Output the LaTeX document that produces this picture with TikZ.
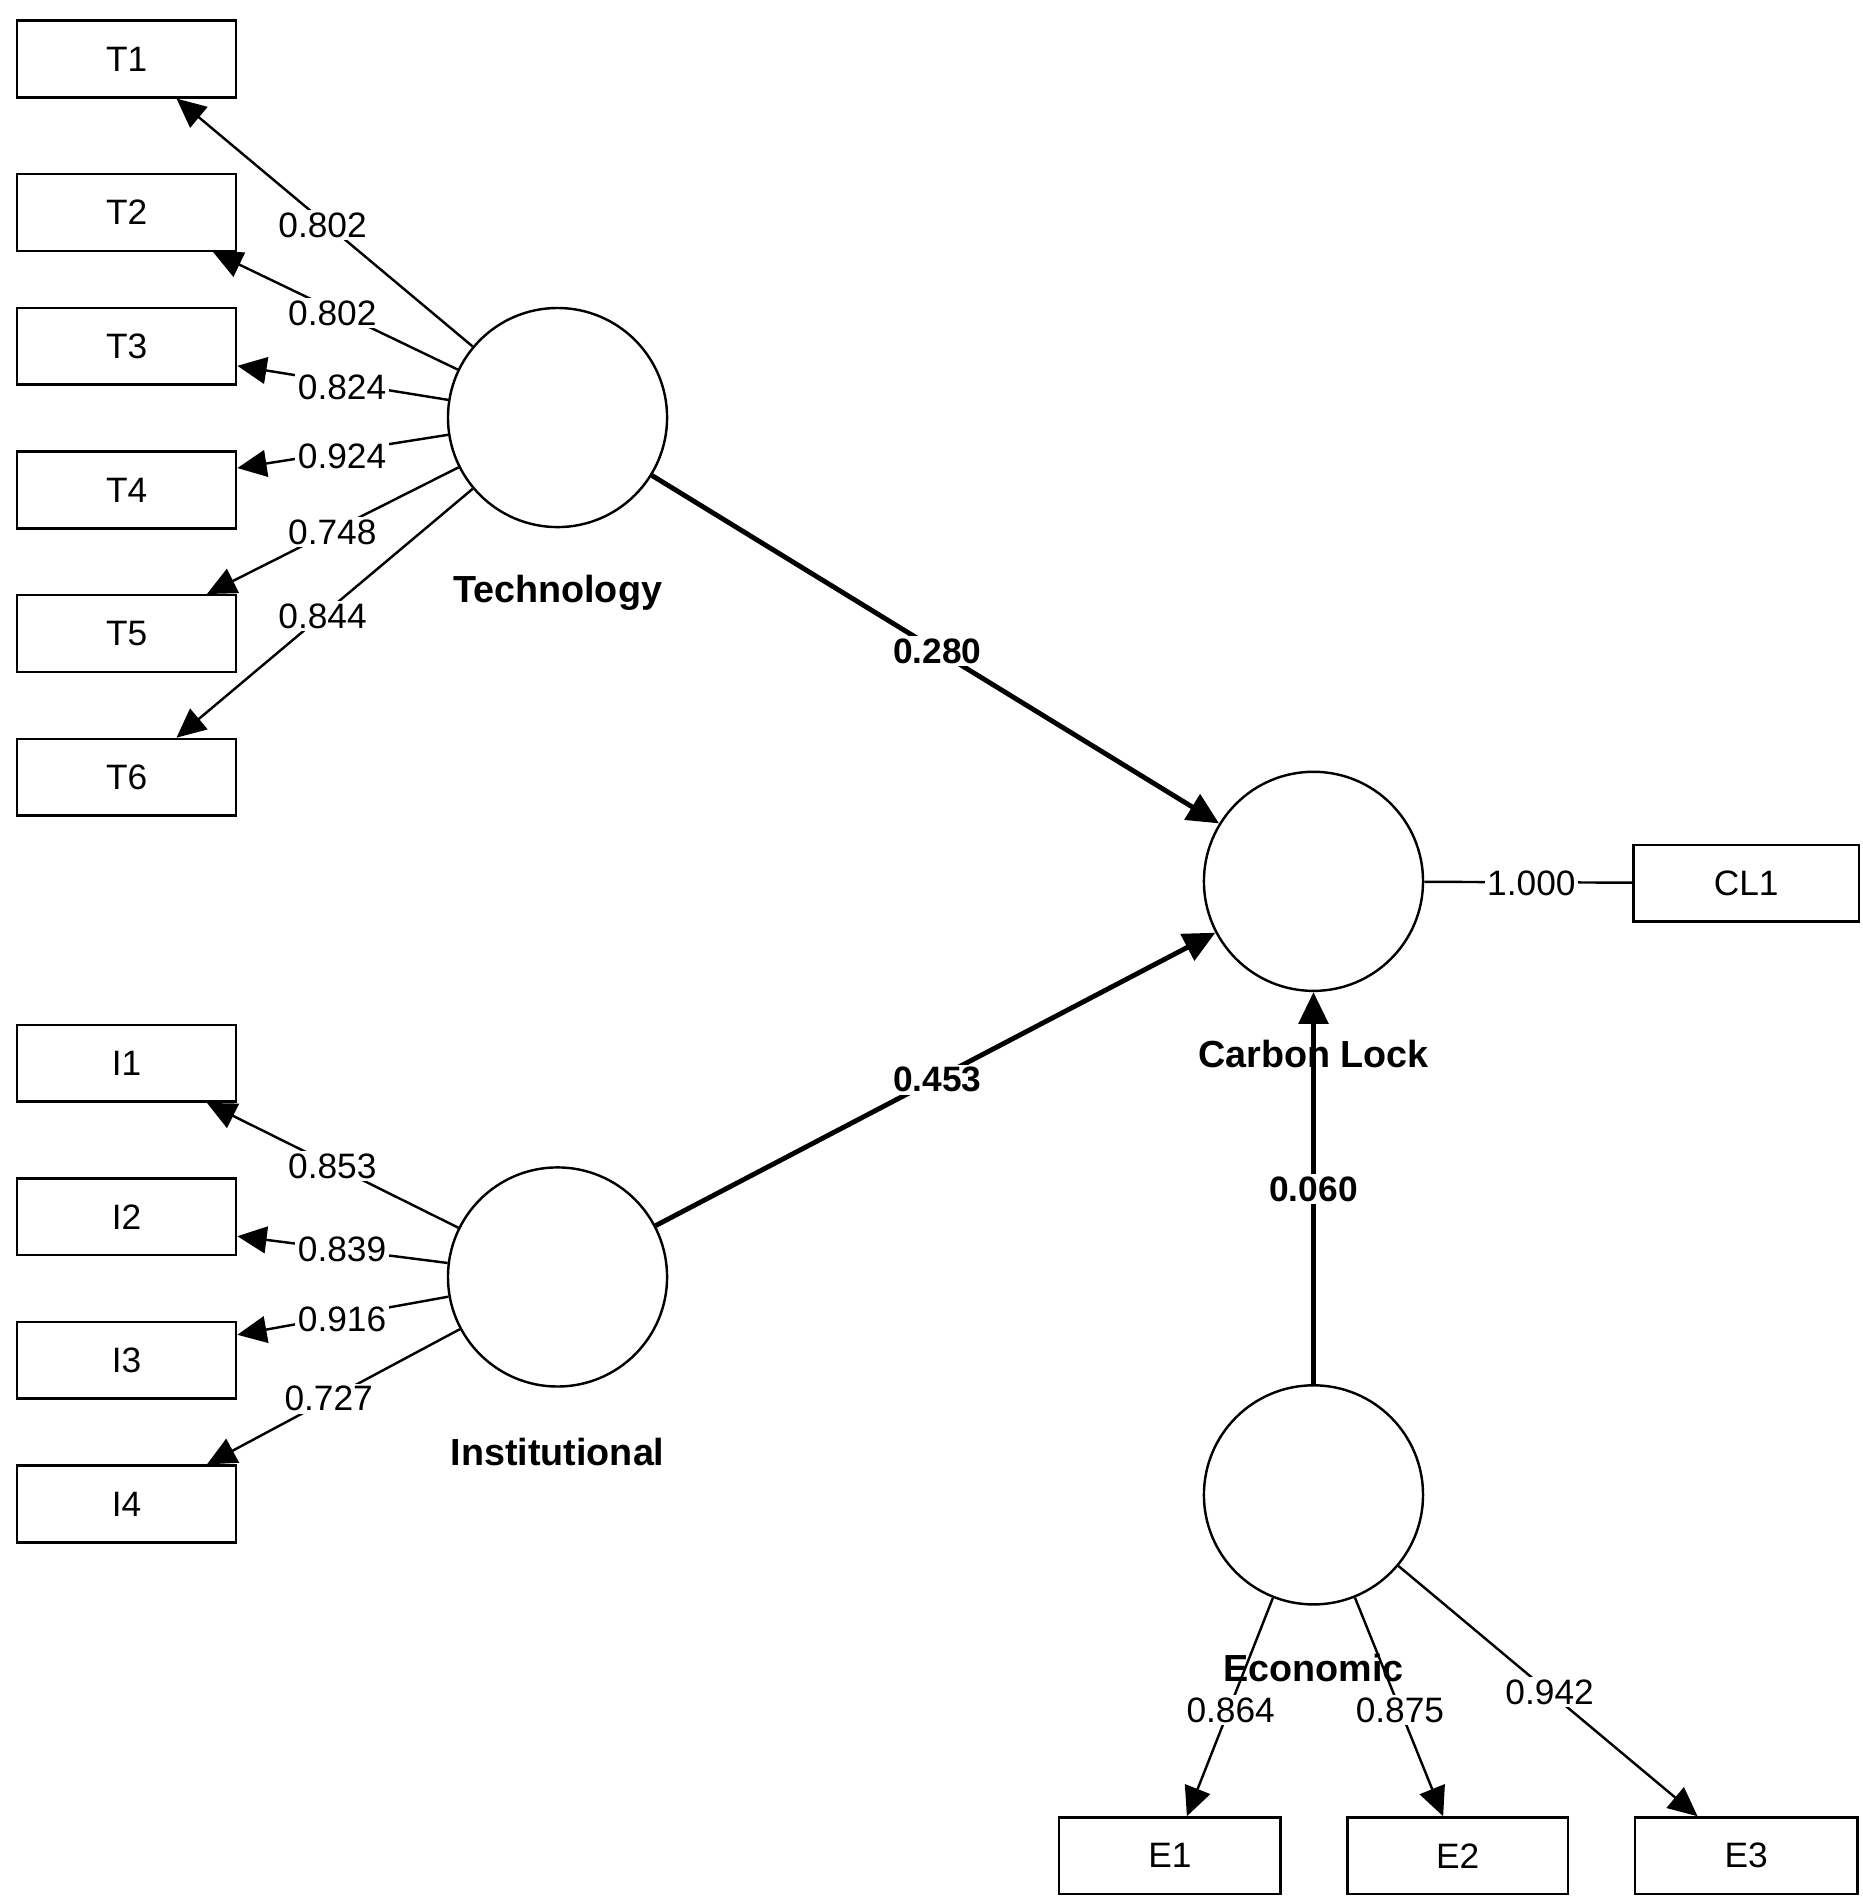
\documentclass[tikz,border=0pt]{standalone}
\usepackage{fontspec}
\setmainfont{Liberation Sans}
\usetikzlibrary{arrows.meta,calc}
\begin{document}
\begin{tikzpicture}[x=1pt,y=-1pt,
  box/.style={draw,line width=2pt,minimum width=180pt,minimum height=63pt,inner sep=0,font=\fontsize{29}{30}\selectfont},
  lv/.style={draw,circle,line width=2pt,minimum size=180pt,inner sep=0},
  lbl/.style={font=\bfseries\fontsize{31}{32}\selectfont},
  num/.style={fill=white,inner sep=2pt,font=\fontsize{29}{30}\selectfont},
  bnum/.style={fill=white,inner sep=2pt,font=\bfseries\fontsize{29}{30}\selectfont},
  ld/.style={line width=2pt,-{Triangle[length=24pt,width=22pt]}},
  sp/.style={line width=4pt,-{Triangle[length=26pt,width=24pt]}}]
\useasboundingbox (0,0) rectangle (1530,1560);
\fill[white] (0,0) rectangle (1530,1560);
\foreach \n/\y in {T1/48.5,T2/174.5,T3/284.5,T4/402.5,T5/520.5,T6/638.5,I1/873.5,I2/999.5,I3/1117.5,I4/1235.5}
  \node[box] (\n) at (104,\y) {\n};
\node[box,minimum width=185pt] (CL1) at (1434.5,725.5) {CL1};
\node[box,minimum width=182pt] (E1) at (961,1524.5) {E1};
\node[box,minimum width=181pt] (E2) at (1197.5,1524.5) {E2};
\node[box,minimum width=183pt] (E3) at (1434.5,1524.5) {E3};
\node[lv] (tech) at (458,343) {};
\node[lv] (cl) at (1079,724) {};
\node[lv] (inst) at (458,1049) {};
\node[lv] (econ) at (1079,1228) {};
\node[lbl] (techl) at (458,487) {Technology};
\node[lbl] (cll) at (1079,866) {Carbon Lock};
\node[lbl] (instl) at (458,1193) {Institutional};
\node[lbl] (econl) at (1079,1370) {Economic};
\draw[ld] (tech) -- ($(T1.south)+(41,0)$);
\draw[ld] (tech) -- ($(T2.south)+(71,0)$);
\draw[ld] (tech) -- ($(T3.east)+(0,16)$);
\draw[ld] (tech) -- ($(T4.east)+(0,-18)$);
\draw[ld] (tech) -- ($(T5.north)+(66,0)$);
\draw[ld] (tech) -- ($(T6.north)+(41,0)$);
\draw[ld] (inst) -- ($(I1.south)+(66,0)$);
\draw[ld] (inst) -- ($(I2.east)+(0,16)$);
\draw[ld] (inst) -- ($(I3.east)+(0,-21)$);
\draw[ld] (inst) -- ($(I4.north)+(66,0)$);
\draw[ld] (econ) -- ($(E1.north)+(14,0)$);
\draw[ld] (econ) -- ($(E2.north)+(-12,0)$);
\draw[ld] (econ) -- ($(E3.north)+(-40,0)$);
\draw[line width=2pt] (cl) -- (CL1);
\draw[sp] (tech) -- (cl);
\draw[sp] (inst) -- (cl);
\draw[sp] (econ) -- (cl);
\foreach \t/\x/\y in {0.802/265/185,0.802/273/257,0.824/281/318,0.924/281/375,0.748/273/437,0.844/265/506,
  0.853/273/958,0.839/281/1026,0.916/281/1084,0.727/270/1149,0.864/1011/1405,0.875/1150/1405,0.942/1273/1390,1.000/1258/726}
  \node[num] at (\x,\y) {\t};
\node[bnum] (p1) at (770,535) {0.280};
\node[bnum] (p2) at (770,887) {0.453};
\node[bnum] (p3) at (1079,977) {0.060};
\end{tikzpicture}
\end{document}
